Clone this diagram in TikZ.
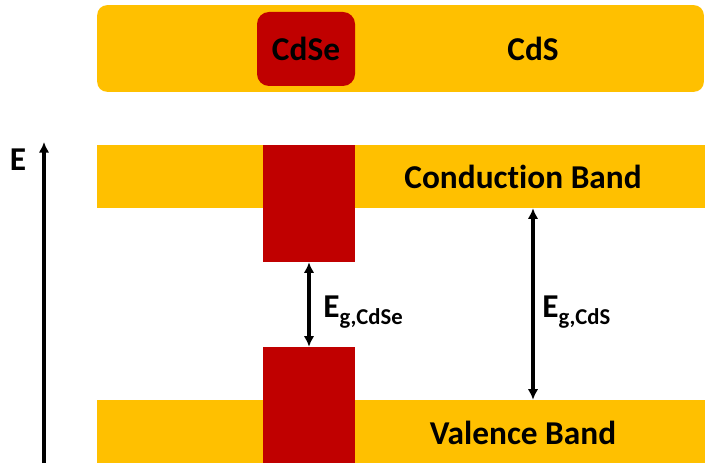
\documentclass[tikz,border=0pt]{standalone}
\usepackage{fontspec}
\setmainfont{Carlito}[Ligatures={NoCommon}]
\usetikzlibrary{arrows.meta}
\definecolor{bandyellow}{HTML}{FFC000}
\definecolor{dotred}{HTML}{C00000}

\begin{document}
\begin{tikzpicture}[x=0.75pt,y=-0.75pt,
        band/.style={fill=bandyellow, inner sep=0pt, minimum width=456pt, minimum height=47.25pt},
        dot/.style={fill=dotred, inner sep=0pt, minimum width=69pt},
        lbl/.style={font=\fontsize{25}{29}\bfseries\selectfont, inner sep=0pt},
        gap/.style={line width=3pt, {Latex[length=8pt,width=8pt]}-{Latex[length=8pt,width=8pt]}}]
    \useasboundingbox (0,0) rectangle (705,463);
    % material sketch
    \node (shell) [fill=bandyellow, rounded corners=7.5pt, inner sep=0pt,
        minimum width=455pt, minimum height=65pt] at (400.5,48.5) {};
    \node (core) [fill=dotred, rounded corners=9pt, inner sep=0pt,
        minimum width=73.5pt, minimum height=55.5pt, lbl] at (306,49) {CdSe};
    \node (cds) [lbl] at (533,49) {CdS};
    % band diagram
    \node (cb) [band] at (401,176.5) {};
    \node (vb) [band] at (401,431.5) {};
    \node (cbse) [dot, minimum height=87.75pt] at (309,203.5) {};
    \node (vbse) [dot, minimum height=87pt] at (309,405) {};
    \node (cbtext) [lbl] at (523,177) {Conduction Band};
    \node (vbtext) [lbl] at (523,433) {Valence Band};
    \coordinate (ebot) at (44,463);
    \coordinate (etop) at (44,142);
    \node (elbl) [lbl] at (18,160) {E};
    \draw [line width=3pt, -{Latex[length=8pt,width=8pt]}] (ebot) -- (etop);
    \draw [gap] (cbse.south) -- (vbse.north);
    \draw [gap] (cb.south -| cds) -- (vb.north -| cds);
    \node (gse) [lbl, anchor=west] at (323,312) {E\raisebox{-0.4ex}{\fontsize{17}{17}\selectfont g,CdSe}};
    \node (gs) [lbl, anchor=west] at (542,312) {E\raisebox{-0.4ex}{\fontsize{17}{17}\selectfont g,CdS}};
\end{tikzpicture}
\end{document}
